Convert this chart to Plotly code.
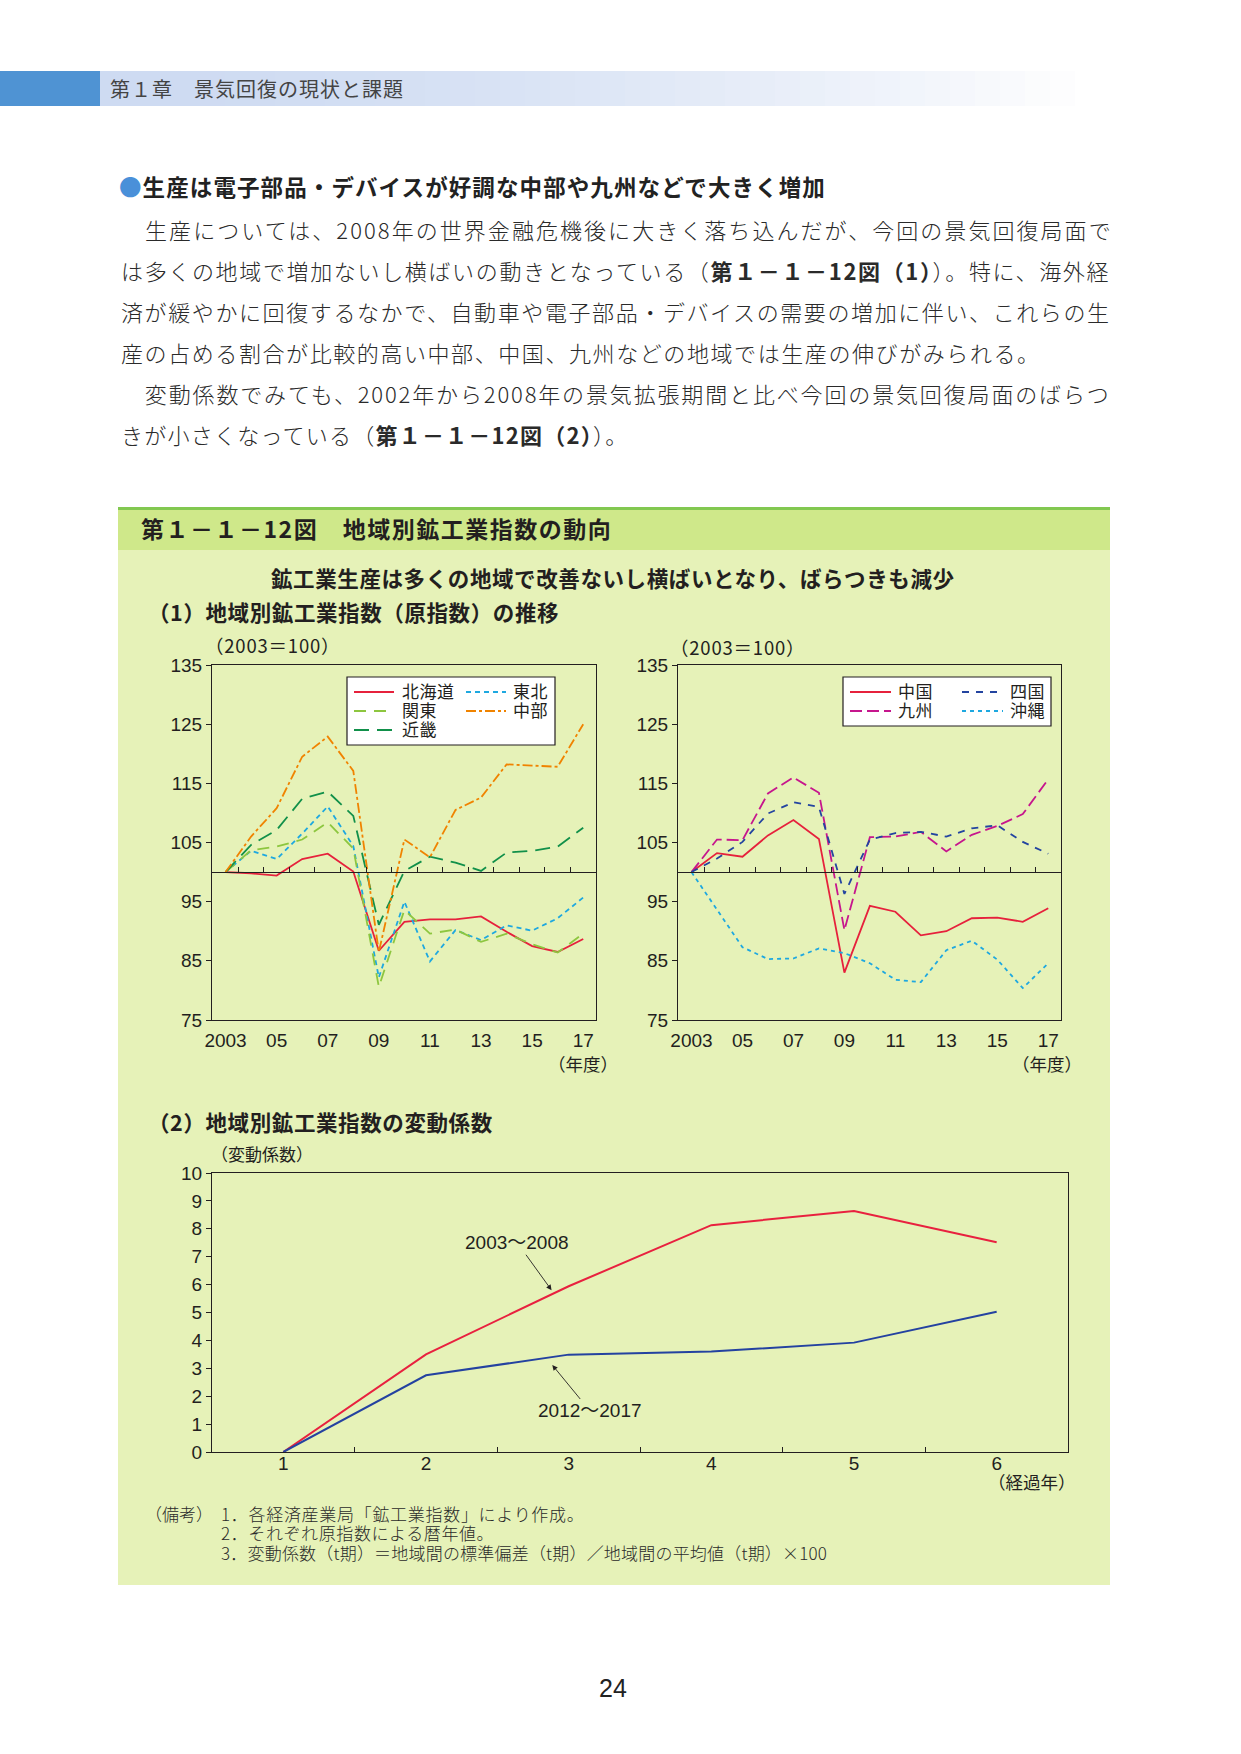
import plotly.graph_objects as go

W, H = 1241, 1754

# ---------------- data ----------------
years = list(range(2003, 2018))
year_tickvals = [2003, 2005, 2007, 2009, 2011, 2013, 2015, 2017]
year_ticktext = ['2003', '05', '07', '09', '11', '13', '15', '17']
half_years = [y + 0.5 for y in range(2003, 2017)]

hokkaido = [100, 99.8, 99.4, 102.2, 103.1, 100.1, 86.7, 91.6, 92.0, 92.0, 92.5, 89.9, 87.5, 86.5, 88.7]
tohoku = [100, 103.6, 102.2, 106.5, 111.1, 104.4, 82.2, 95.0, 84.9, 90.2, 88.5, 91.0, 90.1, 92.2, 95.7]
kanto = [100, 103.7, 104.3, 105.5, 108.4, 104.0, 80.6, 93.6, 89.6, 90.3, 88.2, 89.6, 87.8, 86.4, 89.6]
kinki = [100, 104.6, 107.1, 112.4, 113.6, 109.5, 91.1, 100.2, 102.6, 101.6, 100.2, 103.3, 103.6, 104.3, 107.5]
chubu = [100, 106.0, 110.8, 119.5, 122.9, 117.1, 86.5, 105.5, 102.5, 110.5, 112.6, 118.2, 118.0, 117.8, 125.0]

chugoku = [100, 103.2, 102.6, 106.2, 108.8, 105.6, 83.0, 94.3, 93.3, 89.3, 90.0, 92.2, 92.3, 91.6, 93.9]
kyushu = [100, 105.5, 105.4, 113.3, 116.0, 113.4, 90.2, 105.9, 106.0, 106.8, 103.5, 106.3, 107.8, 109.8, 115.7]
shikoku = [100, 102.3, 105.1, 109.9, 111.8, 111.0, 96.3, 105.5, 106.6, 106.8, 106.0, 107.4, 107.9, 105.1, 103.1]
okinawa = [100, 93.6, 87.3, 85.3, 85.4, 87.1, 86.3, 84.6, 81.8, 81.4, 86.8, 88.4, 85.2, 80.4, 84.6]

index_ticks = [75, 85, 95, 105, 115, 125, 135]

elapsed = [1, 2, 3, 4, 5, 6]
cv_2003_2008 = [0, 3.5, 5.94, 8.13, 8.64, 7.52]
cv_2012_2017 = [0, 2.75, 3.49, 3.6, 3.92, 5.03]
cv_ticks = list(range(0, 11))
elapsed_half = [1.5, 2.5, 3.5, 4.5, 5.5]

body_lines = [
    "　生産については、2008年の世界金融危機後に大きく落ち込んだが、今回の景気回復局面で",
    "は多くの地域で増加ないし横ばいの動きとなっている（<b>第１－１－12図（1）</b>）。特に、海外経",
    "済が緩やかに回復するなかで、自動車や電子部品・デバイスの需要の増加に伴い、これらの生",
    "産の占める割合が比較的高い中部、中国、九州などの地域では生産の伸びがみられる。",
    "　変動係数でみても、2002年から2008年の景気拡張期間と比べ今回の景気回復局面のばらつ",
    "きが小さくなっている（<b>第１－１－12図（2）</b>）。",
]
note_lines = [
    "1．各経済産業局「鉱工業指数」により作成。",
    "2．それぞれ原指数による暦年値。",
    "3．変動係数（t期）＝地域間の標準偏差（t期）／地域間の平均値（t期）×100",
]

# ---------------- helpers ----------------
def px(x):
    return x / W

def py(y):
    return 1 - y / H

JP = "Noto Sans CJK JP"
NUM = "Liberation Sans, Arial, Noto Sans CJK JP"
DARK = "#231f20"

RED = "#e6213c"
LBLUE = "#1ea8e0"
LGREEN = "#8dc63f"
DGREEN = "#11904a"
ORANGE = "#f08300"
MAGENTA = "#c6168d"
DBLUE = "#2344a0"

fig = go.Figure()

left_series = [
    ("北海道", hokkaido, RED, "solid"),
    ("東北", tohoku, LBLUE, "5px,4px"),
    ("関東", kanto, LGREEN, "12px,8px"),
    ("近畿", kinki, DGREEN, "15px,8px"),
    ("中部", chubu, ORANGE, "10px,3px,3px,3px"),
]
right_series = [
    ("中国", chugoku, RED, "solid"),
    ("九州", kyushu, MAGENTA, "12px,5px"),
    ("四国", shikoku, DBLUE, "7px,7px"),
    ("沖縄", okinawa, LBLUE, "4px,4px"),
]

for name, vals, col, dash in left_series:
    fig.add_trace(go.Scatter(x=years, y=vals, name=name, mode="lines",
                             line=dict(color=col, width=1.8, dash=dash),
                             xaxis="x", yaxis="y", showlegend=False))
for name, vals, col, dash in right_series:
    fig.add_trace(go.Scatter(x=years, y=vals, name=name, mode="lines",
                             line=dict(color=col, width=1.8, dash=dash),
                             xaxis="x2", yaxis="y2", showlegend=False))

fig.add_trace(go.Scatter(x=elapsed, y=cv_2003_2008, name="2003～2008", mode="lines",
                         line=dict(color="#e8213f", width=2), xaxis="x3", yaxis="y3",
                         showlegend=False))
fig.add_trace(go.Scatter(x=elapsed, y=cv_2012_2017, name="2012～2017", mode="lines",
                         line=dict(color="#2442a0", width=2), xaxis="x3", yaxis="y3",
                         showlegend=False))

# empty traces to register overlay tick axes
fig.add_trace(go.Scatter(x=[], y=[], xaxis="x4", yaxis="y", showlegend=False))
fig.add_trace(go.Scatter(x=[], y=[], xaxis="x5", yaxis="y2", showlegend=False))
fig.add_trace(go.Scatter(x=[], y=[], xaxis="x6", yaxis="y3", showlegend=False))

# ---------------- axes ----------------
L_dom_x = [px(212), px(596)]
R_dom_x = [px(678), px(1061)]
T_dom_y = [py(1020), py(665)]
B_dom_x = [px(212), px(1068)]
B_dom_y = [py(1452), py(1173)]
xr = [2002.47, 2017.5]
yr = [75, 135]
pos100 = T_dom_y[0] + (100 - yr[0]) / (yr[1] - yr[0]) * (T_dom_y[1] - T_dom_y[0])

frame = dict(showline=True, mirror=True, linecolor=DARK, linewidth=1.2,
             showgrid=False, zeroline=False, automargin=False)
TICKFONT = dict(family=NUM, size=19, color=DARK)

def main_x(dom, anchor):
    return dict(domain=dom, range=xr, anchor=anchor, tickmode="array",
                tickvals=year_tickvals, ticktext=year_ticktext,
                ticks="outside", ticklen=3, tickcolor="rgba(0,0,0,0)",
                tickfont=TICKFONT, **frame)

def main_y(dom, anchor):
    return dict(domain=dom, range=yr, anchor=anchor, tickmode="array",
                tickvals=index_ticks, ticks="outside", ticklen=5, tickcolor=DARK,
                tickfont=TICKFONT, **frame)

def line100(over, rng, pos, tv):
    return dict(overlaying=over, range=rng, anchor="free", position=pos,
                tickmode="array", tickvals=tv, ticks="inside", ticklen=5,
                tickcolor=DARK, tickwidth=1, showticklabels=False, showline=True,
                linecolor=DARK, linewidth=1.2, showgrid=False, zeroline=False,
                side="bottom", automargin=False)

fig.update_layout(
    xaxis=main_x(L_dom_x, "y"),
    yaxis=main_y(T_dom_y, "x"),
    xaxis2=main_x(R_dom_x, "y2"),
    yaxis2=main_y(T_dom_y, "x2"),
    xaxis3=dict(domain=B_dom_x, range=[0.5, 6.5], anchor="y3", tickmode="array",
                tickvals=elapsed, ticks="", ticklabelstandoff=-6, tickfont=TICKFONT,
                **frame),
    yaxis3=dict(domain=B_dom_y, range=[0, 10], anchor="x3", tickmode="array",
                tickvals=cv_ticks, ticks="outside", ticklen=5, tickcolor=DARK,
                tickfont=TICKFONT, **frame),
    xaxis4=line100("x", xr, pos100, half_years),
    xaxis5=line100("x2", xr, pos100, half_years),
    xaxis6=line100("x3", [0.5, 6.5], B_dom_y[0], elapsed_half),
)

# ---------------- decorations ----------------
shapes = []
annotations = []

def rect(x0, y0, x1, y1, color):
    shapes.append(dict(type="rect", xref="paper", yref="paper", x0=px(x0), x1=px(x1),
                       y0=py(y1), y1=py(y0), fillcolor=color, line=dict(width=0),
                       layer="below"))

def text(x, y, s, size, xanchor="left", color=DARK, family=JP, yanchor="middle",
         spacing=None, weight=None):
    if spacing is not None:
        s = "<span style='letter-spacing:%.2fpx'>%s</span>" % (spacing, s)
    f = dict(family=family, size=size, color=color)
    if weight is not None:
        f["weight"] = weight
    annotations.append(dict(x=px(x), y=py(y), xref="paper", yref="paper", text=s,
                            showarrow=False, xanchor=xanchor, yanchor=yanchor,
                            font=f))

# header band
rect(0, 71, 100, 106, "#4f93d3")
n = 40
c0 = (206, 219, 242)
for i in range(n):
    t = i / (n - 1)
    c = tuple(int(c0[k] + (255 - c0[k]) * t ** 1.6) for k in range(3))
    x0 = 100 + i * (1000 / n)
    rect(x0, 71, x0 + 1000 / n + 0.6, 106, "rgb(%d,%d,%d)" % c)
text(108, 88, "第１章　景気回復の現状と課題", 20, color="#444444", spacing=1.0)

# heading and body
text(117, 186, "<span style='color:#4a90d9'>●</span><b>生産は電子部品・デバイスが好調な中部や九州などで大きく増加</b>",
     22.5, spacing=1.1, color="#222222")
body_y = [229, 270, 311, 352, 393, 434]
body_sp = [2.05, 1.65, 1.6, 1.58, 1.85, 1.23]
for yy, s, sp in zip(body_y, body_lines, body_sp):
    text(119, yy, s, 22, color="#2a2a2a", spacing=sp, weight=300)

# green box
rect(118, 550, 1110, 1585, "#e6f2b8")
rect(118, 509, 1110, 550, "#cfe88a")
rect(118, 507, 1110, 510, "#82c850")
text(139, 528, "<b>第１－１－12図　地域別鉱工業指数の動向</b>", 23, spacing=1.5)
text(613, 577, "<b>鉱工業生産は多くの地域で改善ないし横ばいとなり、ばらつきも減少</b>", 21.5,
     xanchor="center", spacing=0.6)
text(146, 611, "<b>（1）地域別鉱工業指数（原指数）の推移</b>", 21.5, spacing=0.6)
text(203, 645, "（2003＝100）", 18.5, spacing=0.8)
text(668, 647, "（2003＝100）", 18.5, spacing=0.8)
text(583, 1063, "（年度）", 17.5, xanchor="center")
text(1047, 1063, "（年度）", 17.5, xanchor="center")
text(146, 1121, "<b>（2）地域別鉱工業指数の変動係数</b>", 21.5, spacing=0.6)
text(209, 1153, "（変動係数）", 17)
text(1078, 1481, "（経過年）", 17.5, xanchor="right")

note_y = [1513, 1532, 1552]
note_sp = [0.7, 0.6, 0.2]
text(143, note_y[0], "（備考）", 17, color="#2a2a2a", weight=300)
for yy, s, sp in zip(note_y, note_lines, note_sp):
    text(219, yy, s, 17, color="#2a2a2a", spacing=sp, weight=300)

text(613, 1688, "24", 25, xanchor="center", family=NUM, color="#222222")

# legends (drawn keys)
def legend_box(x0, y0, x1, y1):
    shapes.append(dict(type="rect", xref="paper", yref="paper", x0=px(x0), x1=px(x1),
                       y0=py(y1), y1=py(y0), fillcolor="white",
                       line=dict(color=DARK, width=1.2), layer="above"))

def legend_item(lx0, lx1, yy, tx, name, col, dash):
    shapes.append(dict(type="line", xref="paper", yref="paper", x0=px(lx0), x1=px(lx1),
                       y0=py(yy), y1=py(yy), line=dict(color=col, width=1.8, dash=dash),
                       layer="above"))
    text(tx, yy - 2, name, 17, spacing=0.5)

legend_box(347, 677, 555, 745)
left_pos = [(354, 394, 692, 400), (466, 506, 692, 511), (354, 394, 711, 400),
            (466, 506, 711, 511), (354, 394, 730, 400)]
left_order = [left_series[0], left_series[1], left_series[2], left_series[4], left_series[3]]
for (a, b, yy, tx), (name, _, col, dash) in zip(left_pos, left_order):
    legend_item(a, b, yy, tx, name, col, dash)

legend_box(843, 677, 1051, 726)
right_pos = [(850, 891, 692, 896), (962, 1003, 692, 1008), (850, 891, 711, 896),
             (962, 1003, 711, 1008)]
right_order = [right_series[0], right_series[2], right_series[1], right_series[3]]
for (a, b, yy, tx), (name, _, col, dash) in zip(right_pos, right_order):
    legend_item(a, b, yy, tx, name, col, dash)

# arrow annotations in bottom chart
annotations.append(dict(x=2.88, y=5.8, xref="x3", yref="y3", ax=2.64, ay=7.5,
                        axref="x3", ayref="y3", text="2003～2008", showarrow=True,
                        arrowhead=2, arrowsize=1.2, arrowwidth=0.9, arrowcolor=DARK,
                        font=dict(family=NUM, size=19, color=DARK)))
annotations.append(dict(x=2.885, y=3.12, xref="x3", yref="y3", ax=3.15, ay=1.47,
                        axref="x3", ayref="y3", text="2012～2017", showarrow=True,
                        arrowhead=2, arrowsize=1.2, arrowwidth=0.9, arrowcolor=DARK,
                        font=dict(family=NUM, size=19, color=DARK)))

fig.update_layout(
    width=W, height=H,
    margin=dict(l=0, r=0, t=0, b=0, pad=0, autoexpand=False),
    paper_bgcolor="white", plot_bgcolor="white",
    shapes=shapes, annotations=annotations, showlegend=False,
    font=dict(family=JP, color=DARK),
)

fig.write_html("out.html", config={"displayModeBar": False},
               post_script="document.body.style.margin='0px';document.body.style.padding='0px';")
